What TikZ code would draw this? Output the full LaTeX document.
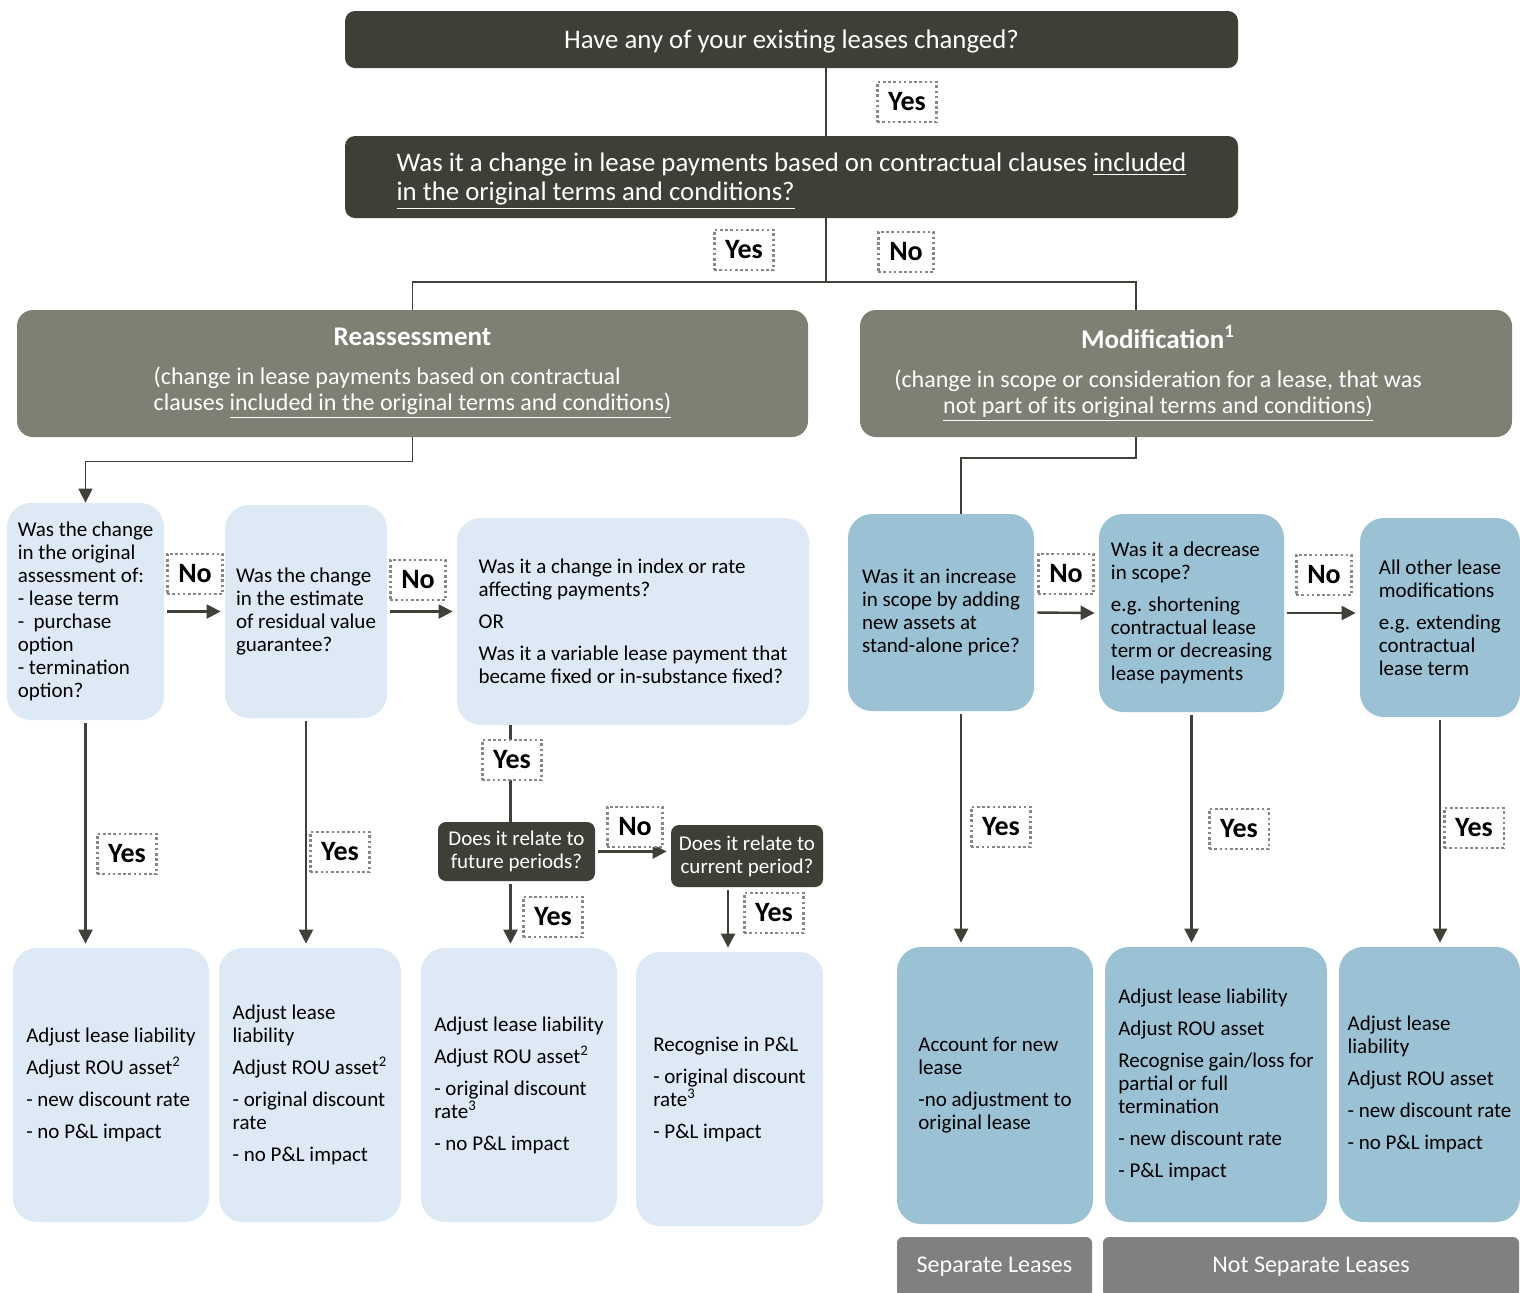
\documentclass[tikz,border=0pt]{standalone}
\usepackage{fontspec}
\setmainfont{Carlito}
\usetikzlibrary{arrows.meta}

\definecolor{darkbox}{RGB}{63,63,55}
\definecolor{headgray}{RGB}{127,127,115}
\definecolor{paleblue}{RGB}{221,233,245}
\definecolor{midblue}{RGB}{155,194,212}
\definecolor{footgray}{RGB}{128,128,128}
\definecolor{linegray}{RGB}{64,64,56}
\definecolor{tagborder}{RGB}{135,135,135}

\begin{document}
\begin{tikzpicture}[x=0.5pt, y=-0.5pt,
  darkq/.style={fill=darkbox, text=white, rounded corners=5pt, align=center, text depth=0pt, font=\fontsize{13.4}{14.5}\selectfont},
  head/.style={fill=headgray, text=white, rounded corners=8pt, align=center, font=\fontsize{12}{13}\selectfont},
  pale/.style={fill=paleblue, rounded corners=12pt, align=left, font=\fontsize{10.5}{11.5}\selectfont},
  mid/.style={fill=midblue, rounded corners=12pt, align=left, font=\fontsize{10.5}{11.5}\selectfont},
  small/.style={fill=darkbox, text=white, rounded corners=4pt, align=center, font=\fontsize{10.5}{11.5}\selectfont},
  foot/.style={fill=footgray, text=white, rounded corners=3pt, font=\fontsize{12}{13}\selectfont},
  tag/.style={draw=tagborder, dash pattern=on 1.3pt off 1.3pt, line width=1.3pt, fill=white, inner xsep=5.5pt, minimum height=20pt, font=\fontsize{14}{15}\selectfont\bfseries},
  thin/.style={draw=linegray, line width=0.7pt},
  thickline/.style={draw=linegray, line width=1.2pt},
  arr/.style={draw=linegray, line width=1.2pt, -{Triangle[length=7pt,width=7pt]}, shorten <=1.5pt, shorten >=2pt},
]

\fill[white] (0,0) rectangle (1520,1292);
\useasboundingbox (0,0) rectangle (1520,1292);

\coordinate (sp) at (826,0);
\coordinate (fork) at (826,282);
\coordinate (mr) at (1136,282);
\coordinate (mc) at (961,458);

\node[darkq, minimum width=446.5pt, minimum height=28.5pt] (t1) at (791.5,39.5) {Have any of your existing leases changed?};
\node[darkq, align=left, minimum width=446.5pt, minimum height=41pt] (t2) at (791.5,177)
  {Was it a change in lease payments based on contractual clauses \underline{included}\\\underline{in the original terms and conditions?}};

\node[head, minimum width=395.5pt, minimum height=63.5pt] (ra) at (412.5,373.5)
  {{\bfseries\fontsize{13.5}{13}\selectfont Reassessment}\\[6.5pt]
   \begin{tabular}[t]{@{}l@{}}(change in lease payments based on contractual\\
   clauses \underline{included in the original terms and conditions)}\end{tabular}};
\node[head, minimum width=326pt, minimum height=63.5pt] (mo) at (1186,373.5)
  {\begin{tabular}{@{}c@{\hspace{28pt}}}{\bfseries\fontsize{13.5}{13}\selectfont Modification\textsuperscript{1}}\\[6.5pt]
   (change in scope or consideration for a lease, that was\\
   \underline{not part of its original terms and conditions)}\end{tabular}};

% reassessment questions
\node[pale, minimum width=78.5pt, minimum height=108.5pt] (q1) at (85.5,611.5)
  {Was the change\\in the original\\assessment of:\\- lease term\\-~ purchase\\option\\- termination\\option?};
\node[pale, minimum width=81pt, minimum height=106.5pt] (q2) at (306,611.5)
  {Was the change\\in the estimate\\of residual value\\guarantee?};
\node[pale, minimum width=176pt, minimum height=103.5pt] (q3) at (633,621.5)
  {Was it a change in index or rate\\affecting payments?\\[4.5pt]OR\\[4.5pt]Was it a variable lease payment that\\became fixed or in-substance fixed?};
\node[small, minimum width=78.5pt, minimum height=29.5pt] (fut) at (516.5,851.5) {Does it relate to\\future periods?};
\node[small, minimum width=76pt, minimum height=31pt] (cur) at (747,856) {Does it relate to\\current period?};

\node[pale, minimum width=98pt, minimum height=137pt] (r1) at (111,1085)
  {Adjust lease liability\\[4.5pt]Adjust ROU asset\textsuperscript{2}\\[4.5pt]- new discount rate\\[4.5pt]- no P\&L impact};
\node[pale, minimum width=91pt, minimum height=137pt] (r2) at (310,1085)
  {Adjust lease\\liability\\[4.5pt]Adjust ROU asset\textsuperscript{2}\\[4.5pt]- original discount\\rate\\[4.5pt]- no P\&L impact};
\node[pale, minimum width=98pt, minimum height=137pt] (r3) at (519,1085)
  {Adjust lease liability\\[4.5pt]Adjust ROU asset\textsuperscript{2}\\[4.5pt]- original discount\\rate\textsuperscript{3}\\[4.5pt]- no P\&L impact};
\node[pale, minimum width=93.5pt, minimum height=137pt] (r4) at (729.5,1089)
  {Recognise in P\&L\\[4.5pt]- original discount\\rate\textsuperscript{3}\\[4.5pt]- P\&L impact};

% modification questions
\node[mid, minimum width=93pt, minimum height=98.5pt] (m1) at (941,612.5)
  {Was it an increase\\in scope by adding\\new assets at\\stand-alone price?};
\node[mid, minimum width=92.5pt, minimum height=99pt] (m2) at (1191.5,613)
  {Was it a decrease\\in scope?\\[4.5pt]e.g. shortening\\contractual lease\\term or decreasing\\lease payments};
\node[mid, minimum width=80pt, minimum height=99.5pt] (m3) at (1440,617.5)
  {All other lease\\modifications\\[4.5pt]e.g. extending\\contractual\\lease term};

\node[mid, minimum width=98pt, minimum height=138.5pt] (s1) at (995,1085.5)
  {Account for new\\lease\\[4.5pt]-no adjustment to\\original lease};
\node[mid, minimum width=111pt, minimum height=137.5pt] (s2) at (1216,1084.5)
  {Adjust lease liability\\[4.5pt]Adjust ROU asset\\[4.5pt]Recognise gain/loss for\\partial or full\\termination\\[4.5pt]- new discount rate\\[4.5pt]- P\&L impact};
\node[mid, minimum width=90.5pt, minimum height=137.5pt] (s3) at (1429.5,1084.5)
  {Adjust lease\\liability\\[4.5pt]Adjust ROU asset\\[4.5pt]- new discount rate\\[4.5pt]- no P\&L impact};

\node[foot, minimum width=97.5pt, minimum height=30pt] (sep) at (994.5,1267) {Separate Leases};
\node[foot, minimum width=208pt, minimum height=30pt] (nsep) at (1311,1267) {Not Separate Leases};

% connectors
\draw[thin] (t1.south -| sp) -- (t2.north -| sp);
\draw[thin] (t2.south -| sp) -- (fork);
\draw[thin] (ra.north) |- (mr) -- (mr |- mo.north);
\draw[thin, -{Triangle[length=7pt,width=7pt]}] (ra.south) -- ++(0,24) -| (q1.north);
\draw[thin] (mo.south -| mr) |- (mc) -- (mc |- m1.north);

\draw[arr] (q1.east) -- (q2.west);
\draw[arr] (q2.east) -- (q2.east -| q3.west);
\draw[thickline] ([xshift=-3pt]fut.north |- q3.south) -- ([xshift=-3pt]fut.north);
\draw[arr] (fut.east) -- (fut.east -| cur.west);
\draw[arr] ([xshift=-3pt]fut.south) -- ([xshift=-3pt]fut.south |- r3.north);
\draw[arr] ([xshift=-9.5pt]cur.south) -- ([xshift=-9.5pt]cur.south |- r4.north);
\draw[arr] (q1.south) -- (q1.south |- r1.north);
\draw[arr] (q2.south) -- (q2.south |- r2.north);

\draw[arr] (m1.east) -- (m2.west);
\draw[arr] (m2.east) -- (m2.east -| m3.west);
\draw[arr] (mc |- m1.south) -- (mc |- s1.north);
\draw[arr] (m2.south) -- (m2.south |- s2.north);
\draw[arr] (m3.south) -- (m3.south |- s3.north);

% answer tags
\node[tag] (ya) at (907,102) {Yes};
\node[tag] (yb) at (744,250) {Yes};
\node[tag] (nb) at (906,252) {No};
\node[tag] (nq1) at (195,574) {No};
\node[tag] (nq2) at (418,580) {No};
\node[tag] (yq3) at (512,760) {Yes};
\node[tag] (nf) at (635,827) {No};
\node[tag] (yf) at (553,917) {Yes};
\node[tag] (yc) at (774,913) {Yes};
\node[tag] (yq1) at (127,854) {Yes};
\node[tag] (yq2) at (340,852) {Yes};
\node[tag] (nm1) at (1066,574) {No};
\node[tag] (nm2) at (1324,575) {No};
\node[tag] (ym1) at (1001,827) {Yes};
\node[tag] (ym2) at (1239,829) {Yes};
\node[tag] (ym3) at (1474,828) {Yes};

\end{tikzpicture}
\end{document}
